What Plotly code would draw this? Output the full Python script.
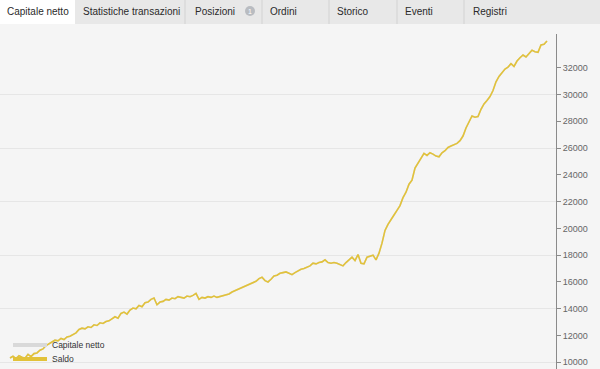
import plotly.graph_objects as go

# ---- data ----
saldo = [
    10320, 10450, 10280, 10500, 10380, 10300, 10600, 10420, 10650, 10700,
    10900, 11000, 11250, 11400, 11550, 11650, 11600, 11780, 11700, 11900,
    11950, 12100, 12200, 12450, 12550, 12500, 12650, 12600, 12800, 12750,
    12950, 12900, 13050, 13100, 13250, 13400, 13300, 13650, 13750, 13600,
    13900, 14050, 14000, 14250, 14150, 14450, 14500, 14700, 14800, 14300,
    14500, 14550, 14700, 14650, 14800, 14750, 14900, 14850, 14800, 14950,
    14900, 15000, 15150, 14700, 14850, 14800, 14900, 14850, 14950, 14850,
    14900, 14950, 15050, 15100, 15250, 15350, 15450, 15600, 15700, 15800,
    15850, 15950, 16050, 16250, 16350, 16100, 16000, 16200, 16450, 16500,
    16650, 16700, 16750, 16650, 16550, 16700, 16850, 16950, 17000, 17100,
    17200, 17400, 17350, 17450, 17500, 17650, 17450, 17400, 17450, 17400,
    17300, 17200, 17450, 17650, 17850, 17600, 18050, 17400, 17350, 17850,
    17950, 18000, 17650, 18150, 18900, 19850, 20300, 20700, 21000, 21350,
    21700, 22300, 22700, 23300, 23600, 24500, 24900, 25300, 25600, 25450,
    25650, 25550, 25400, 25350, 25650, 25800, 26050, 26150, 26250, 26350,
    26550, 26900, 27500, 28000, 28400, 28300, 28350, 28900, 29300, 29550,
    29850, 30300, 30950, 31350, 31650, 31900, 32050, 32300, 32100, 32500,
    32750, 32950, 32800, 33050, 33300, 33200, 33150, 33700, 33750, 34000,
]
capitale_netto = list(saldo)  # equity equals balance (hidden under the yellow line)
steps = list(range(len(saldo)))

tab_labels = ["Capitale netto", "Statistiche transazioni", "Posizioni", "Ordini",
              "Storico", "Eventi", "Registri"]
y_tick_vals = [10000, 12000, 14000, 16000, 18000, 20000, 22000,
               24000, 26000, 28000, 30000, 32000]
grid_vals = [10000, 14000, 18000, 22000, 26000, 30000]
series_names = ["Capitale netto", "Saldo"]

# ---- styling / layout geometry ----
W, H = 600, 369
ML, MR, MT, MB = 0, 44, 34, 0
PW, PH = W - ML - MR, H - MT - MB
def px(x):
    return (x - ML) / PW
def py(y):
    return (H - MB - y) / PH

YELLOW = "#e2c23a"
GRAY = "#d9d9d9"
FONT = "Liberation Sans"

fig = go.Figure()
# gray on main axis (below), yellow on overlay axis (drawn above)
fig.add_trace(go.Scatter(x=steps, y=capitale_netto, mode="lines", yaxis="y",
                         line=dict(color=GRAY, width=1.6), showlegend=False,
                         hoverinfo="skip"))
fig.add_trace(go.Scatter(x=steps, y=saldo, mode="lines", yaxis="y2",
                         line=dict(color=YELLOW, width=1.6), showlegend=False))
# legend entries (thick symbols), two separate legends for tight spacing
fig.add_trace(go.Scatter(x=[None], y=[None], mode="lines", name=series_names[0],
                         line=dict(color=GRAY, width=4), legend="legend"))
fig.add_trace(go.Scatter(x=[None], y=[None], mode="lines", name=series_names[1],
                         line=dict(color=YELLOW, width=4), legend="legend2"))

yr = [9500, 34520]
leg_common = dict(x=px(8), xanchor="left", yanchor="middle",
                  bgcolor="rgba(0,0,0,0)", font=dict(size=8.5, color="#333"),
                  itemwidth=34, tracegroupgap=0)
fig.update_layout(
    width=W, height=H,
    margin=dict(l=ML, r=MR, t=MT, b=MB, pad=0, autoexpand=False),
    paper_bgcolor="#f5f5f5", plot_bgcolor="#f5f5f5",
    font=dict(family=FONT, color="#333"),
    xaxis=dict(range=[-10 / 3, (PW - 10) / 3], visible=False, fixedrange=True),
    yaxis=dict(side="right", range=yr, tickvals=y_tick_vals, tickformat="d",
               showgrid=False, zeroline=False, showline=True,
               linecolor="#8a8a8a", linewidth=1, ticks="outside", ticklen=4,
               tickcolor="#8a8a8a", tickfont=dict(size=9, color="#666")),
    yaxis2=dict(overlaying="y", side="right", range=yr, tickvals=grid_vals,
                showticklabels=False, showgrid=True, gridcolor="#e6e6e6",
                gridwidth=1, zeroline=False, showline=False, ticks=""),
    legend=dict(y=py(345), **leg_common),
    legend2=dict(y=py(359), **leg_common),
    showlegend=True,
)

# ---- tab bar ----
shapes = [
    dict(type="rect", xref="paper", yref="paper", x0=px(0), x1=px(W),
         y0=py(24), y1=py(0), fillcolor="#e8e8e8", line=dict(width=0), layer="above"),
    dict(type="rect", xref="paper", yref="paper", x0=px(0), x1=px(75),
         y0=py(24), y1=py(0), fillcolor="#ffffff", line=dict(width=0), layer="above"),
]
for sx in [185, 262, 329, 397, 464]:
    shapes.append(dict(type="line", xref="paper", yref="paper", x0=px(sx), x1=px(sx),
                       y0=py(24), y1=py(0), line=dict(color="#d2d2d2", width=1),
                       layer="above"))
shapes.append(dict(type="circle", xref="paper", yref="paper", x0=px(245), x1=px(255),
                   y0=py(16), y1=py(6), fillcolor="#b9bcc1", line=dict(width=0),
                   layer="above"))
fig.update_layout(shapes=shapes)

tab_x = [5, 81, 193, 268, 335, 403, 471]
for lab, tx in zip(tab_labels, tab_x):
    fig.add_annotation(text=lab, xref="paper", yref="paper", x=px(tx), y=py(11.5),
                       xanchor="left", yanchor="middle", showarrow=False,
                       font=dict(size=10, color="#2a2a2a", family=FONT))
fig.add_annotation(text="1", xref="paper", yref="paper", x=px(250), y=py(11),
                   xanchor="center", yanchor="middle", showarrow=False,
                   font=dict(size=7, color="#ffffff", family=FONT))

fig.write_html("out.html")
